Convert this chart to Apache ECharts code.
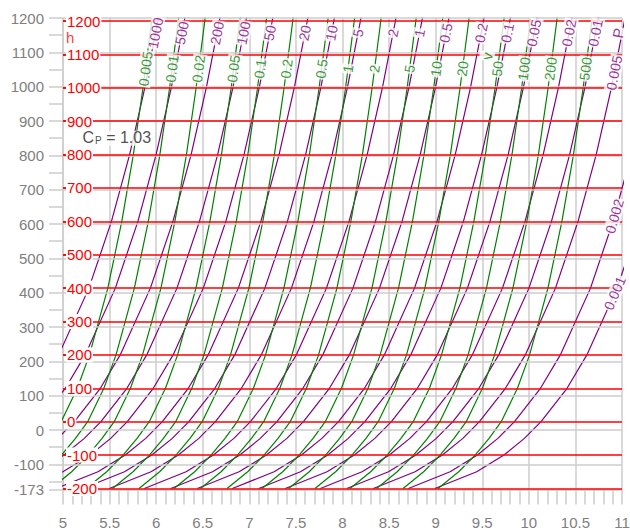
<!DOCTYPE html>
<html><head><meta charset="utf-8">
<script src="https://cdn.jsdelivr.net/npm/echarts@6/dist/echarts.min.js"></script>
<style>html,body{margin:0;padding:0;background:#fff}#c{width:630px;height:531px}</style>
</head><body><div id="c"></div>
<script>
// temperature levels (°C) at which each curve was read
const T_LEVELS = [-200,-150,-100,-50,0,100,200,400,600,800,1000,1200,1300];

// constant-pressure lines (purple): entropy s read at each T level
const P_LABELS = ['1000','500','200','100','50','20','10','5','2','1','0.5','0.2','0.1','0.05','0.02','0.01','0.005','0.002','0.001'];
const P_S = [
  [3.323,3.771,4.064,4.284,4.462,4.741,4.954,5.278,5.520,5.715,5.878,6.018,6.081],
  [3.607,4.055,4.348,4.568,4.746,5.025,5.238,5.562,5.804,5.999,6.162,6.302,6.365],
  [3.983,4.431,4.724,4.944,5.122,5.401,5.614,5.938,6.180,6.375,6.538,6.678,6.741],
  [4.268,4.716,5.009,5.229,5.407,5.686,5.899,6.223,6.465,6.660,6.823,6.963,7.026],
  [4.551,4.999,5.292,5.512,5.690,5.969,6.182,6.506,6.748,6.943,7.106,7.246,7.309],
  [4.927,5.375,5.668,5.888,6.066,6.345,6.558,6.882,7.124,7.319,7.482,7.622,7.685],
  [5.212,5.660,5.953,6.173,6.351,6.630,6.843,7.167,7.409,7.604,7.767,7.907,7.970],
  [5.497,5.945,6.238,6.458,6.636,6.915,7.128,7.452,7.694,7.889,8.052,8.192,8.255],
  [5.873,6.321,6.614,6.834,7.012,7.291,7.504,7.828,8.070,8.265,8.428,8.568,8.631],
  [6.157,6.605,6.898,7.118,7.296,7.575,7.788,8.112,8.354,8.549,8.712,8.852,8.915],
  [6.442,6.890,7.183,7.403,7.581,7.860,8.073,8.397,8.639,8.834,8.997,9.137,9.200],
  [6.818,7.266,7.559,7.779,7.957,8.236,8.449,8.773,9.015,9.210,9.373,9.513,9.576],
  [7.101,7.549,7.842,8.062,8.240,8.519,8.732,9.056,9.298,9.493,9.656,9.796,9.859],
  [7.386,7.834,8.127,8.347,8.525,8.804,9.017,9.341,9.583,9.778,9.941,10.081,10.144],
  [7.762,8.210,8.503,8.723,8.901,9.180,9.393,9.717,9.959,10.154,10.317,10.457,10.520],
  [8.046,8.494,8.787,9.007,9.185,9.464,9.677,10.001,10.243,10.438,10.601,10.741,10.804],
  [8.331,8.779,9.072,9.292,9.470,9.749,9.962,10.286,10.528,10.723,10.886,11.026,11.089],
  [8.707,9.155,9.448,9.668,9.846,10.125,10.338,10.662,10.904,11.099,11.262,11.402,11.465],
  [8.992,9.440,9.733,9.953,10.131,10.410,10.623,10.947,11.189,11.384,11.547,11.687,11.750]
];
const P_LABEL_T = [1164,1164,1164,1164,1164,1164,1164,1164,1164,1164,1164,1164,1164,1164,1164,1164,1045,615,385];

// constant-volume lines (green)
const V_LABELS = ['0.005','0.01','0.02','0.05','0.1','0.2','0.5','1','2','5','10','20','50','100','200','500'];
const V_S = [
  [4.302,4.523,4.699,4.849,4.980,5.154,5.284,5.481,5.631,5.755,5.859,5.952,5.994],
  [4.587,4.808,4.984,5.134,5.265,5.439,5.569,5.766,5.916,6.040,6.144,6.237,6.279],
  [4.872,5.093,5.269,5.419,5.550,5.724,5.854,6.051,6.201,6.325,6.429,6.522,6.564],
  [5.248,5.469,5.645,5.795,5.926,6.100,6.230,6.427,6.577,6.701,6.805,6.898,6.940],
  [5.531,5.752,5.928,6.078,6.209,6.383,6.513,6.710,6.860,6.984,7.088,7.181,7.223],
  [5.816,6.037,6.213,6.363,6.494,6.668,6.798,6.995,7.145,7.269,7.373,7.466,7.508],
  [6.192,6.413,6.589,6.739,6.870,7.044,7.174,7.371,7.521,7.645,7.749,7.842,7.884],
  [6.476,6.697,6.873,7.023,7.154,7.328,7.458,7.655,7.805,7.929,8.033,8.126,8.168],
  [6.761,6.982,7.158,7.308,7.439,7.613,7.743,7.940,8.090,8.214,8.318,8.411,8.453],
  [7.137,7.358,7.534,7.684,7.815,7.989,8.119,8.316,8.466,8.590,8.694,8.787,8.829],
  [7.422,7.643,7.819,7.969,8.100,8.274,8.404,8.601,8.751,8.875,8.979,9.072,9.114],
  [7.705,7.926,8.102,8.252,8.383,8.557,8.687,8.884,9.034,9.158,9.262,9.355,9.397],
  [8.081,8.302,8.478,8.628,8.759,8.933,9.063,9.260,9.410,9.534,9.638,9.731,9.773],
  [8.366,8.587,8.763,8.913,9.044,9.218,9.348,9.545,9.695,9.819,9.923,10.016,10.058],
  [8.650,8.871,9.047,9.197,9.328,9.502,9.632,9.829,9.979,10.103,10.207,10.300,10.342],
  [9.026,9.247,9.423,9.573,9.704,9.878,10.008,10.205,10.355,10.479,10.583,10.676,10.718]
];
const V_LABEL_T = 1057;

// axes
const H_LABEL_VALUES = [-173,-100,0,100,200,300,400,500,600,700,800,900,1000,1100,1200];
const H_TICK_VALUES = [-173,-150,-100,-50,0,50,100,150,200,250,300,350,400,450,500,550,600,650,700,750,800,850,900,950,1000,1050,1100,1150,1200];
const H_GRID = [-100,0,100,200,300,400,500,600,700,800,900,1000,1100,1200];
const T_LINES = [-200,-100,0,100,200,300,400,500,600,700,800,900,1000,1100,1200];
const T_AXIS_MIN = -202.8, T_AXIS_MAX = 1209;

// annotations [s, T]
const NOTE_CP = [5.577, 849];
const NOTE_H = [5.077, 1150];
const NOTE_V = [9.551, 1095];
const NOTE_P = [10.958, 1164];

const FONT = "'Liberation Sans','Arial',sans-serif";
const PURPLE = '#800080', GREEN = '#008000', RED = '#ff0000', GRID = '#cccccc', TXT = '#808080';
const plain = v => String(v);

function interpS(arr, t) {
  for (let i = 0; i < T_LEVELS.length - 1; i++) {
    if (t >= T_LEVELS[i] && t <= T_LEVELS[i+1]) {
      const f = (t - T_LEVELS[i]) / (T_LEVELS[i+1] - T_LEVELS[i]);
      return arr[i] + f * (arr[i+1] - arr[i]);
    }
  }
  return arr[arr.length-1];
}

const chart = echarts.init(document.getElementById('c'), null, {renderer: 'svg'});

const series = [];
series.push({
  type: 'line', yAxisIndex: 0, data: [], silent: true, z: 1,
  markLine: { silent: true, symbol: 'none', animation: false, label: {show: false},
    lineStyle: {color: GRID, width: 1.5, type: 'solid'},
    data: H_GRID.map(v => ({yAxis: v})) }
});
P_S.forEach((arr, i) => series.push({
  type: 'line', name: 'P' + P_LABELS[i], xAxisIndex: 0, yAxisIndex: 1, silent: true, z: 2,
  symbol: 'none', clip: true, lineStyle: {color: PURPLE, width: 1.2},
  data: T_LEVELS.map((t, j) => [arr[j], t])
}));
V_S.forEach((arr, i) => series.push({
  type: 'line', name: 'v' + V_LABELS[i], xAxisIndex: 0, yAxisIndex: 1, silent: true, z: 2,
  symbol: 'none', clip: true, lineStyle: {color: GREEN, width: 1.2},
  data: T_LEVELS.map((t, j) => [arr[j], t])
}));
series.push({
  type: 'line', yAxisIndex: 1, data: [], silent: true, z: 3,
  markLine: { silent: true, symbol: 'none', animation: false, label: {show: false},
    lineStyle: {color: RED, width: 1.5, type: 'solid'},
    data: T_LINES.map(v => ({yAxis: v})) }
});

const option = {
  animation: false,
  backgroundColor: '#fff',
  grid: {left: 63, right: 8, top: 18, bottom: 41.6, containLabel: false, outerBoundsMode: 'none'},
  xAxis: {
    type: 'value', min: 5, max: 11, interval: 0.5,
    axisLine: {show: true, onZero: false, lineStyle: {color: GRID, width: 1.5}},
    axisTick: {show: true, length: 15, lineStyle: {color: GRID, width: 1.5}},
    minorTick: {show: true, splitNumber: 5, length: 15, lineStyle: {color: GRID, width: 1.5}},
    splitLine: {show: true, lineStyle: {color: GRID, width: 1.5}},
    axisLabel: {color: TXT, fontSize: 15, fontFamily: FONT, margin: 26, formatter: plain}
  },
  yAxis: [{
    type: 'value', min: -173, max: 1200, position: 'left',
    axisLine: {show: true, onZero: false, lineStyle: {color: GRID, width: 1.5}},
    axisTick: {show: true, length: 14, customValues: H_TICK_VALUES, lineStyle: {color: GRID, width: 1.5}},
    splitLine: {show: false},
    axisLabel: {color: TXT, fontSize: 15, fontFamily: FONT, margin: 19, customValues: H_LABEL_VALUES, formatter: plain}
  }, {
    type: 'value', min: T_AXIS_MIN, max: T_AXIS_MAX, position: 'left', z: 8,
    axisLine: {show: false, onZero: false},
    axisTick: {show: true, inside: true, length: 3, customValues: T_LINES, lineStyle: {color: RED, width: 1.5}},
    splitLine: {show: false},
    axisLabel: {inside: true, color: RED, fontSize: 15, fontFamily: FONT, margin: 3,
      backgroundColor: '#fff', padding: [0, 1], customValues: T_LINES, formatter: plain}
  }],
  series: series
};
chart.setOption(option);

// labels positioned on the curves, rotated along them
function angleAt(arr, t) {
  const a = chart.convertToPixel({xAxisIndex: 0, yAxisIndex: 1}, [interpS(arr, t - 25), t - 25]);
  const b = chart.convertToPixel({xAxisIndex: 0, yAxisIndex: 1}, [interpS(arr, t + 25), t + 25]);
  return Math.atan2(a[1] - b[1], b[0] - a[0]) * 180 / Math.PI;
}
const labelData = [];
const baseLabel = {show: true, position: 'inside', fontSize: 14, fontFamily: FONT, backgroundColor: '#fff', padding: [0, 1]};
P_S.forEach((arr, i) => {
  const t = P_LABEL_T[i];
  labelData.push({name: P_LABELS[i], value: [interpS(arr, t), t],
    label: Object.assign({}, baseLabel, {color: PURPLE, rotate: angleAt(arr, t)})});
});
V_S.forEach((arr, i) => {
  const t = V_LABEL_T;
  labelData.push({name: V_LABELS[i], value: [interpS(arr, t), t],
    label: Object.assign({}, baseLabel, {color: GREEN, rotate: angleAt(arr, t)})});
});
labelData.push({name: 'v', value: NOTE_V, label: Object.assign({}, baseLabel, {color: GREEN, rotate: 80, fontSize: 15})});
labelData.push({name: 'P', value: NOTE_P, label: Object.assign({}, baseLabel, {color: PURPLE, rotate: 80, fontSize: 15})});
labelData.push({name: 'h', value: NOTE_H, label: Object.assign({}, baseLabel, {color: RED, rotate: 0, fontSize: 15, backgroundColor: 'transparent'})});
labelData.push({name: 'Cp', value: NOTE_CP, label: Object.assign({}, baseLabel, {
  color: '#222', rotate: 0, padding: [0, 2],
  formatter: '{c|C}{p|P}{t| = 1.03}',
  rich: {
    c: {fontSize: 16, fontFamily: FONT, color: '#222', verticalAlign: 'bottom', lineHeight: 15},
    p: {fontSize: 10, fontFamily: FONT, color: '#222', verticalAlign: 'bottom', lineHeight: 15, padding: [0, 0, 0, 1]},
    t: {fontSize: 16, fontFamily: FONT, color: '#222', verticalAlign: 'bottom', lineHeight: 15}
  }
})});

series.push({
  type: 'scatter', xAxisIndex: 0, yAxisIndex: 1, silent: true, z: 10,
  symbolSize: 0.1, itemStyle: {color: 'transparent'},
  label: {show: true, formatter: '{b}'},
  data: labelData
});
chart.setOption({series: series});
</script>
</body></html>
